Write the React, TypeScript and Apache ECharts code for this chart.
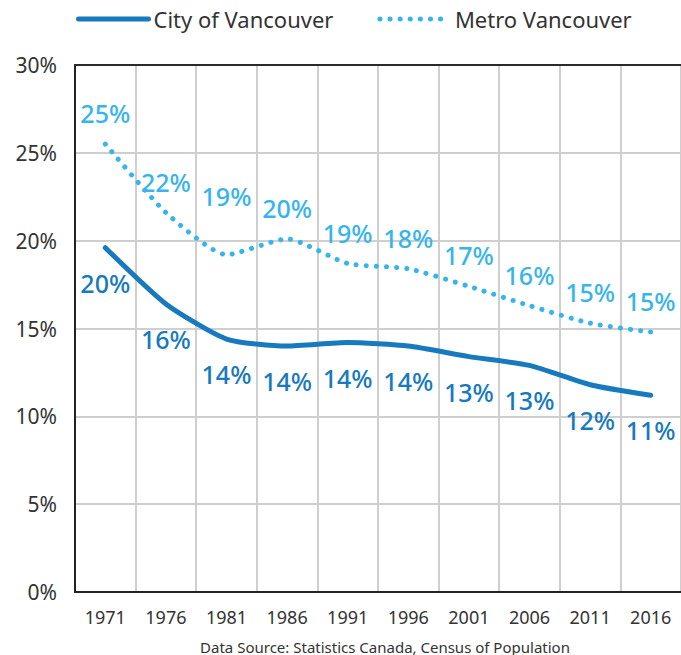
import React, { useEffect, useRef } from "react";
import * as echarts from "echarts";

const years = ["1971", "1976", "1981", "1986", "1991", "1996", "2001", "2006", "2011", "2016"];
const cityValues = [19.6, 16.4, 14.4, 14.0, 14.2, 14.0, 13.4, 12.9, 11.8, 11.2];
const metroValues = [25.5, 21.6, 19.2, 20.1, 18.7, 18.4, 17.4, 16.3, 15.3, 14.8];
const cityLabels = ["20%", "16%", "14%", "14%", "14%", "14%", "13%", "13%", "12%", "11%"];
const metroLabels = ["25%", "22%", "19%", "20%", "19%", "18%", "17%", "16%", "15%", "15%"];

const CITY = "#1779be";
const METRO = "#38b4ec";
const FONT = "'Noto Sans', sans-serif";

export default function App() {
  const ref = useRef<HTMLDivElement>(null);
  useEffect(() => {
    if (!ref.current) return;
    const chart = echarts.init(ref.current, null, { renderer: "svg" });
    const metroData = metroValues.map((v, i) =>
      i === 2 ? { value: v, label: { offset: [0, -28] } } : v
    );
    chart.setOption({
      animation: false,
      textStyle: { fontFamily: FONT },
      legend: {
        top: 3,
        left: 71,
        itemGap: 44,
        itemWidth: 70,
        itemHeight: 10,
        itemStyle: { opacity: 0 },
        textStyle: { fontSize: 22, color: "#333", fontFamily: FONT },
        data: [
          { name: "City of Vancouver", lineStyle: { width: 5, color: CITY, cap: "round" } },
          { name: "Metro Vancouver", lineStyle: { width: 5, color: METRO, type: [0.1, 10], cap: "round" } },
        ],
      },
      title: {
        text: "Data Source: Statistics Canada, Census of Population",
        left: 380,
        textAlign: "center",
        top: 633,
        textStyle: { fontSize: 15, fontWeight: "normal", color: "#333", fontFamily: FONT, lineHeight: 17 },
      },
      grid: { left: 75, top: 65, width: 610, height: 527, containLabel: false },
      xAxis: [
        {
          type: "category",
          data: years,
          boundaryGap: true,
          axisLine: { show: true, lineStyle: { color: "#222", width: 2 } },
          axisTick: { show: false },
          axisLabel: { interval: 0, fontSize: 18, color: "#333", margin: 16, fontFamily: FONT },
          splitLine: { show: true, interval: 0, lineStyle: { color: "#cfcfcf", width: 2 } },
        },
        {
          type: "category",
          data: years,
          position: "top",
          boundaryGap: true,
          axisLine: { show: true, lineStyle: { color: "#2a2a2a", width: 2 } },
          axisTick: { show: false },
          axisLabel: { show: false },
          splitLine: { show: false },
          z: 5,
        },
      ],
      yAxis: {
        type: "value",
        min: 0,
        max: 30,
        interval: 5,
        axisLine: { show: true, lineStyle: { color: "#222", width: 2 } },
        axisTick: { show: false },
        axisLabel: { formatter: "{value}%", fontSize: 21, color: "#333", margin: 18, fontFamily: FONT },
        splitLine: { show: true, lineStyle: { color: "#cfcfcf", width: 2 } },
      },
      series: [
        {
          name: "City of Vancouver",
          type: "line",
          xAxisIndex: 0,
          data: cityValues,
          smooth: 0.2,
          symbol: "circle",
          symbolSize: 1,
          showSymbol: true,
          itemStyle: { color: "rgba(0,0,0,0)" },
          color: CITY,
          lineStyle: { color: CITY, width: 5, cap: "round" },
          label: {
            show: true,
            position: "bottom",
            distance: 22,
            formatter: (p: any) => cityLabels[p.dataIndex],
            color: CITY,
            fontSize: 25,
            fontWeight: 500,
            fontFamily: FONT,
          },
          z: 3,
        },
        {
          name: "Metro Vancouver",
          type: "line",
          xAxisIndex: 0,
          data: metroData,
          smooth: 0.2,
          symbol: "circle",
          symbolSize: 1,
          showSymbol: true,
          itemStyle: { color: "rgba(0,0,0,0)" },
          color: METRO,
          lineStyle: { color: METRO, width: 5, type: [0.1, 10], cap: "round" },
          label: {
            show: true,
            position: "top",
            distance: 18,
            formatter: (p: any) => metroLabels[p.dataIndex],
            color: METRO,
            fontSize: 25,
            fontWeight: 500,
            fontFamily: FONT,
          },
          z: 2,
        },
      ],
    });
    return () => chart.dispose();
  }, []);
  return <div ref={ref} style={{ width: 681, height: 655, position: "absolute", left: 0, top: 0 }} />;
}
